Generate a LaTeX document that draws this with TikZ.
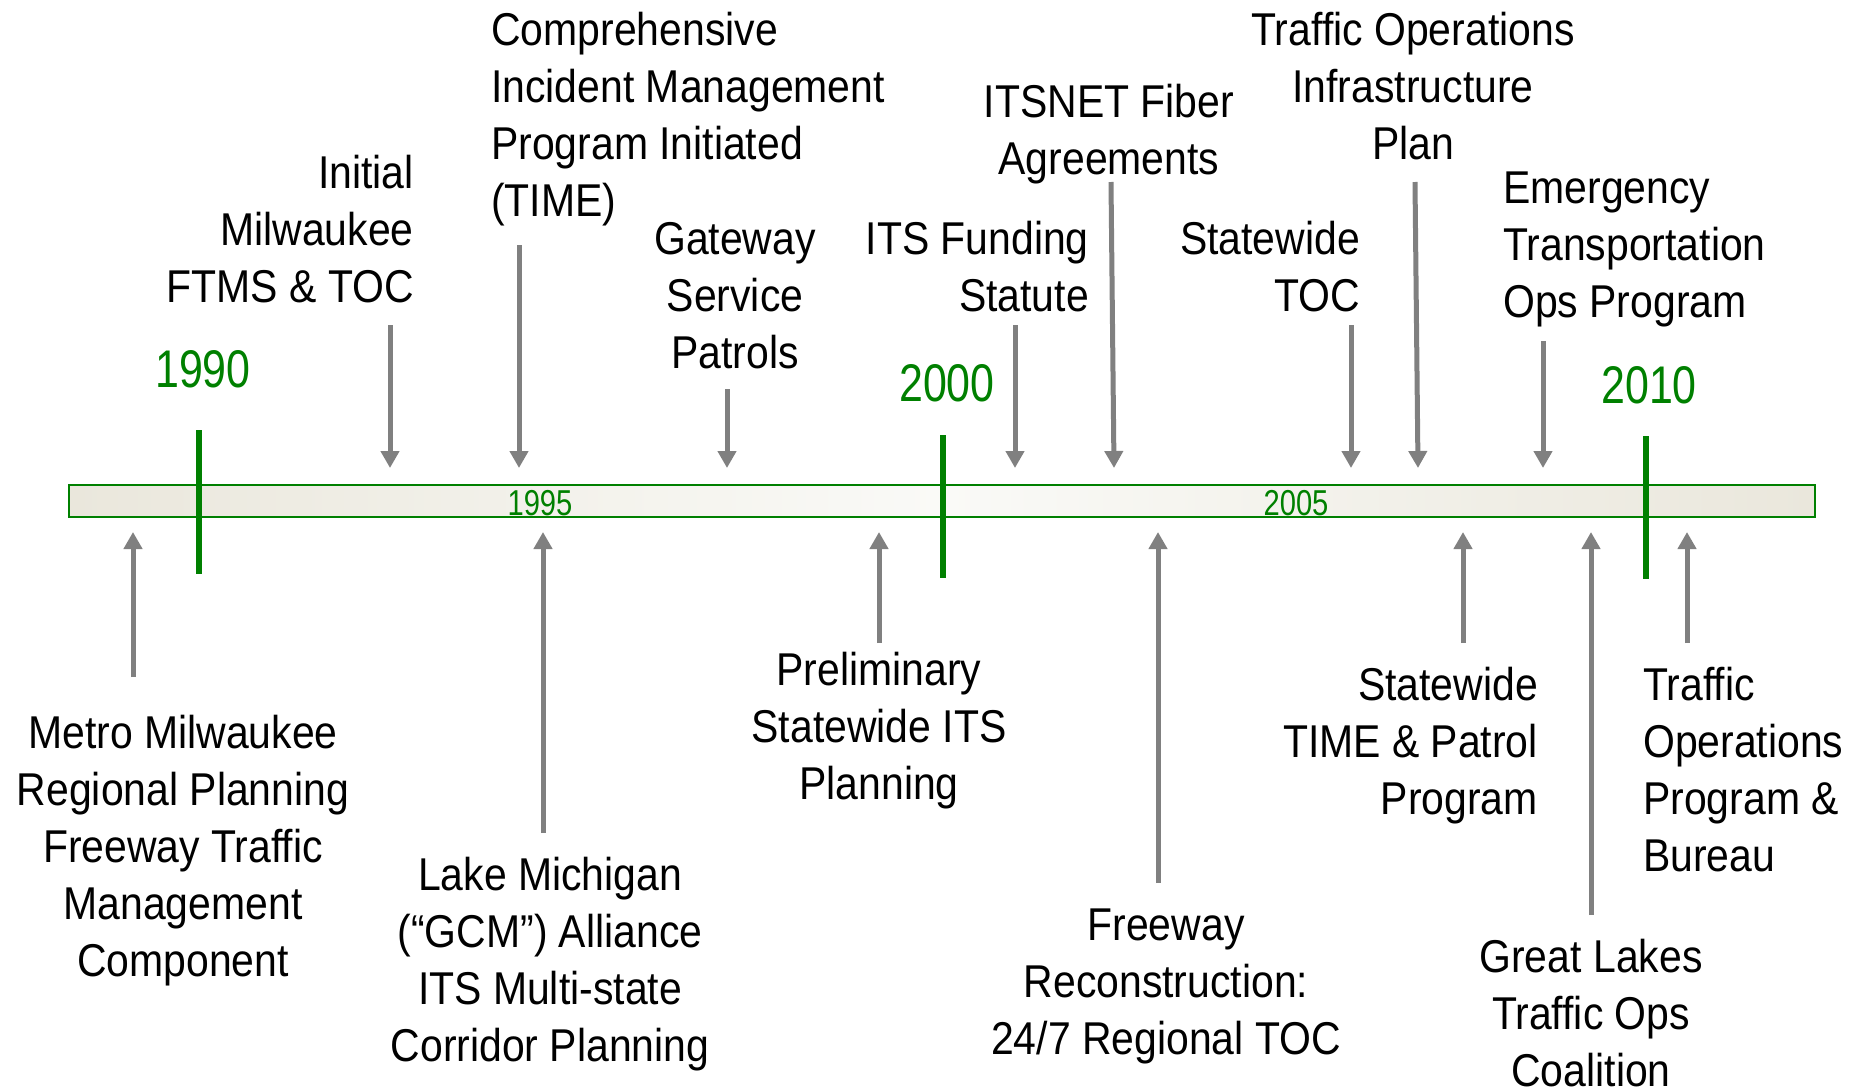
\documentclass[tikz,border=0pt]{standalone}
\usepackage{fontspec}
\setmainfont{Liberation Sans}
\newfontfamily\bodyfam[FakeStretch=0.89]{Liberation Sans}
\newfontfamily\yearfam[FakeStretch=0.81]{Liberation Sans}
\usetikzlibrary{arrows.meta}
\definecolor{tlgreen}{HTML}{008000}
\definecolor{tlgray}{HTML}{808080}
\definecolor{barend}{HTML}{EAE7DC}
\definecolor{barmid}{HTML}{FAFAF7}
\begin{document}
\begin{tikzpicture}[x=1pt,y=-1pt,
  lbl/.style={inner sep=0pt, font=\bodyfam\fontsize{46}{57}\selectfont, text=black},
  yr/.style={inner sep=0pt, font=\yearfam\fontsize{53}{60}\selectfont, text=tlgreen, anchor=base},
  yrin/.style={inner sep=0pt, font=\yearfam\fontsize{36}{40}\selectfont, text=tlgreen, anchor=base},
  evt/.style={draw=tlgray, line width=5pt, -{Triangle[width=18pt,length=17pt]}},
  yeartick/.style={draw=tlgreen, line width=5.5pt},
  barbox/.style={draw=tlgreen, line width=1.6pt, left color=barend, right color=barend, middle color=barmid,
    minimum width=1746pt, minimum height=32pt, inner sep=0pt, outer sep=0pt},
]
\useasboundingbox (0,0) rectangle (1869,1090);

% timeline bar
\node[barbox] (bar) at (942,501) {};
\node[yrin] (y1995) at (540,515) {1995};
\node[yrin] (y2005) at (1296,515) {2005};

% year ticks and labels
\coordinate (t90a) at (199,430); \coordinate (t90b) at (199,574);
\coordinate (t00a) at (943,435); \coordinate (t00b) at (943,578);
\coordinate (t10a) at (1646,436); \coordinate (t10b) at (1646,579);
\draw[yeartick] (t90a) -- (t90b);
\draw[yeartick] (t00a) -- (t00b);
\draw[yeartick] (t10a) -- (t10b);
\node[yr] (y1990) at (203,387) {1990};
\node[yr] (y2000) at (947,401) {2000};
\node[yr] (y2010) at (1649,403) {2010};

% labels above the bar (anchored at the baseline of their last line)
\node[lbl, align=right, anchor=base east] (initial) at (414,302) {Initial\\Milwaukee\\FTMS \& TOC};
\node[lbl, align=left, anchor=base west] (time) at (491,216) {Comprehensive\\Incident Management\\Program Initiated\\(TIME)};
\node[lbl, align=center, anchor=base] (gateway) at (735,368) {Gateway\\Service\\Patrols};
\node[lbl, align=right, anchor=base east] (funding) at (1089,311) {ITS Funding\\Statute};
\node[lbl, align=center, anchor=base] (itsnet) at (1109,174) {ITSNET Fiber\\Agreements};
\node[lbl, align=right, anchor=base east] (stoc) at (1360,311) {Statewide\\TOC};
\node[lbl, align=center, anchor=base] (plan) at (1413,159) {Traffic Operations\\Infrastructure\\Plan};
\node[lbl, align=left, anchor=base west] (emerg) at (1503,317) {Emergency\\Transportation\\Ops Program};

% labels below the bar
\node[lbl, align=center, anchor=base] (metro) at (183,976) {Metro Milwaukee\\Regional Planning\\Freeway Traffic\\Management\\Component};
\node[lbl, align=center, anchor=base] (lake) at (550,1061) {Lake Michigan\\(“GCM”) Alliance\\ITS Multi-state\\Corridor Planning};
\node[lbl, align=center, anchor=base] (prelim) at (879,799) {Preliminary\\Statewide ITS\\Planning};
\node[lbl, align=center, anchor=base] (freeway) at (1166,1054) {Freeway\\Reconstruction:\\24/7 Regional TOC};
\node[lbl, align=right, anchor=base east] (stime) at (1538,814) {Statewide\\TIME \& Patrol\\Program};
\node[lbl, align=center, anchor=base] (glakes) at (1591,1086) {Great Lakes\\Traffic Ops\\Coalition};
\node[lbl, align=left, anchor=base west] (tob) at (1643,871) {Traffic\\Operations\\Program \&\\Bureau};

% arrow end points
\coordinate (initial-s) at (390,325);  \coordinate (initial-e) at (390,468);
\coordinate (time-s) at (519,245);     \coordinate (time-e) at (519,468);
\coordinate (gateway-s) at (727,389);  \coordinate (gateway-e) at (727,468);
\coordinate (funding-s) at (1015,325); \coordinate (funding-e) at (1015,468);
\coordinate (itsnet-s) at (1111,182);  \coordinate (itsnet-e) at (1114,468);
\coordinate (stoc-s) at (1351,325);    \coordinate (stoc-e) at (1351,468);
\coordinate (plan-s) at (1415,182);    \coordinate (plan-e) at (1418,468);
\coordinate (emerg-s) at (1543,341);   \coordinate (emerg-e) at (1543,468);

\coordinate (metro-s) at (133,677);    \coordinate (metro-e) at (133,532);
\coordinate (lake-s) at (543,833);     \coordinate (lake-e) at (543,532);
\coordinate (prelim-s) at (879,643);   \coordinate (prelim-e) at (879,532);
\coordinate (freeway-s) at (1158,883); \coordinate (freeway-e) at (1158,532);
\coordinate (stime-s) at (1463,643);   \coordinate (stime-e) at (1463,532);
\coordinate (glakes-s) at (1591,915);  \coordinate (glakes-e) at (1591,532);
\coordinate (tob-s) at (1687,643);     \coordinate (tob-e) at (1687,532);

\foreach \n in {initial,time,gateway,funding,itsnet,stoc,plan,emerg,metro,lake,prelim,freeway,stime,glakes,tob}
  \draw[evt] (\n-s) -- (\n-e);
\end{tikzpicture}
\end{document}
